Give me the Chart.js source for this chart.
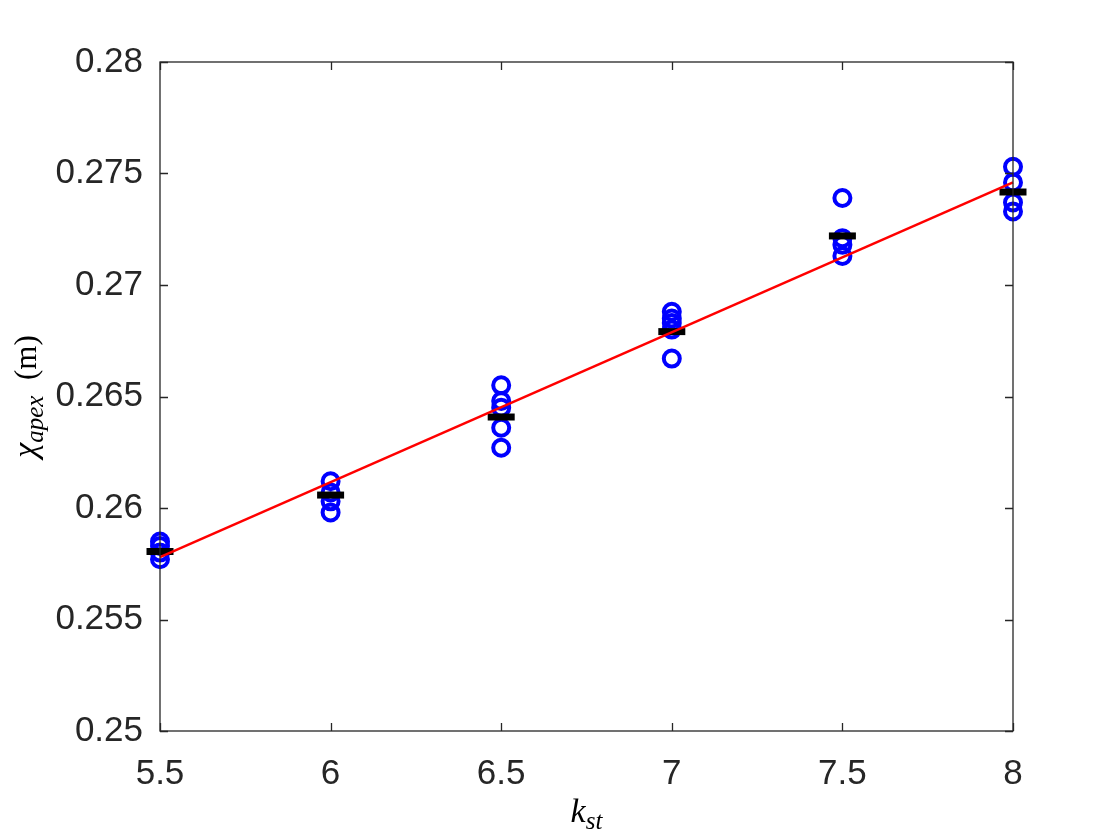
<!DOCTYPE html>
<html>
<head>
<meta charset="utf-8">
<script src="https://cdn.jsdelivr.net/npm/chart.js@4"></script>
<style>
  html, body { margin: 0; padding: 0; background: #fff; }
</style>
</head>
<body>
<canvas id="fitChart" width="1120" height="840"></canvas>
<script>
// values
const kSt = [5.5, 6, 6.5, 7, 7.5, 8];
const samples55 = [0.2585, 0.2583, 0.2580, 0.2577];
const samples60 = [0.2612, 0.2607, 0.2603, 0.2598];
const samples65 = [0.2655, 0.2648, 0.2645, 0.2636, 0.2627];
const samples70 = [0.2688, 0.2685, 0.2683, 0.2680, 0.2667];
const samples75 = [0.2739, 0.2721, 0.2718, 0.2713];
const samples80 = [0.2753, 0.2746, 0.2737, 0.2733];
const meanValues = [0.25805, 0.26058, 0.26408, 0.26791, 0.27220, 0.27417];
const fitX = [5.5, 8];
const fitY = [0.2578, 0.2746];
const xTickLabels = ["5.5", "6", "6.5", "7", "7.5", "8"];
const yTickLabels = ["0.25", "0.255", "0.26", "0.265", "0.27", "0.275", "0.28"];

const axisColor = "#262626";

const allSamples = [samples55, samples60, samples65, samples70, samples75, samples80];
let samplePoints = [];
allSamples.forEach((list, i) => {
    list.forEach((v) => samplePoints.push({x: kSt[i], y: v}));
});
let meanPoints = kSt.map((k, i) => ({x: k, y: meanValues[i]}));
let fitPoints = fitX.map((k, i) => ({x: k, y: fitY[i]}));

// box + inward ticks like matlab, and the latex-ish axis titles
const matlabAxes = {
    id: "matlabAxes",
    afterDraw(chart) {
        const ctx = chart.ctx;
        const a = chart.chartArea;
        const xs = chart.scales.x;
        const ys = chart.scales.y;
        const tl = 8;
        ctx.save();
        ctx.strokeStyle = axisColor;
        ctx.lineWidth = 1.3;
        ctx.strokeRect(a.left, a.top, a.right - a.left, a.bottom - a.top);
        ctx.beginPath();
        xs.ticks.forEach((t) => {
            const px = Math.round(xs.getPixelForValue(t.value)) + 0.5;
            ctx.moveTo(px, a.bottom); ctx.lineTo(px, a.bottom - tl);
            ctx.moveTo(px, a.top); ctx.lineTo(px, a.top + tl);
        });
        ys.ticks.forEach((t) => {
            const py = Math.round(ys.getPixelForValue(t.value)) + 0.5;
            ctx.moveTo(a.left, py); ctx.lineTo(a.left + tl, py);
            ctx.moveTo(a.right, py); ctx.lineTo(a.right - tl, py);
        });
        ctx.stroke();

        ctx.fillStyle = "#000";
        ctx.textBaseline = "alphabetic";
        // x title: k_st
        drawMath(ctx, [
            {t: "k", f: "italic 34px 'Liberation Serif'", dy: 0},
            {t: "st", f: "italic 25px 'Liberation Serif'", dy: 7}
        ], (a.left + a.right) / 2, 822);
        // y title: chi_apex (m), rotated
        ctx.translate(36, (a.top + a.bottom) / 2);
        ctx.rotate(-Math.PI / 2);
        drawMath(ctx, [
            {t: "χ", f: "italic 34px 'Liberation Serif'", dy: 0},
            {t: "apex", f: "italic 25px 'Liberation Serif'", dy: 7},
            {t: "  (m)", f: "31px 'Liberation Serif'", dy: 0}
        ], 0, 0);
        ctx.restore();
    }
};

function drawMath(ctx, parts, cx, baseY) {
    let total = 0;
    parts.forEach((p) => {
        ctx.font = p.f;
        p.w = ctx.measureText(p.t).width;
        total += p.w;
    });
    let x = cx - total / 2;
    ctx.textAlign = "left";
    parts.forEach((p) => {
        ctx.font = p.f;
        ctx.fillText(p.t, x, baseY + p.dy);
        x += p.w;
    });
}

const tickFont = {family: "'Liberation Sans', Arial, sans-serif", size: 35};

new Chart(document.getElementById("fitChart"), {
    type: "scatter",
    data: {
        datasets: [
            {
                label: "fit",
                type: "line",
                data: fitPoints,
                borderColor: "#ff0000",
                borderWidth: 2.5,
                pointRadius: 0,
                fill: false,
                clip: false,
                order: 1,
            },
            {
                label: "mean",
                data: meanPoints,
                pointStyle: "line",
                pointRadius: 13.5,
                pointBorderWidth: 7,
                borderColor: "#000",
                backgroundColor: "#000",
                clip: false,
                order: 2,
            },
            {
                label: "samples",
                data: samplePoints,
                pointStyle: "circle",
                pointRadius: 8,
                pointBorderWidth: 4,
                borderColor: "#0000ff",
                backgroundColor: "rgba(0,0,0,0)",
                clip: false,
                order: 3,
            },
        ],
    },
    options: {
        responsive: false,
        animation: false,
        layout: {
            padding: {left: 0, right: 107, top: 62, bottom: 0},
        },
        scales: {
            x: {
                type: "linear",
                min: 5.5,
                max: 8,
                grid: {display: false, drawTicks: false},
                border: {display: false},
                ticks: {
                    stepSize: 0.5,
                    color: axisColor,
                    font: tickFont,
                    padding: 22,
                    maxRotation: 0,
                    callback: (value, index) => xTickLabels[index],
                },
                afterFit: (scale) => { scale.height = 109; },
            },
            y: {
                type: "linear",
                min: 0.25,
                max: 0.28,
                grid: {display: false, drawTicks: false},
                border: {display: false},
                ticks: {
                    stepSize: 0.005,
                    color: axisColor,
                    font: tickFont,
                    padding: 17,
                    callback: (value, index) => yTickLabels[index],
                },
                afterFit: (scale) => { scale.width = 160; },
            },
        },
        plugins: {
            legend: {display: false},
            tooltip: {enabled: false},
        },
    },
    plugins: [matlabAxes],
});
</script>
</body>
</html>
